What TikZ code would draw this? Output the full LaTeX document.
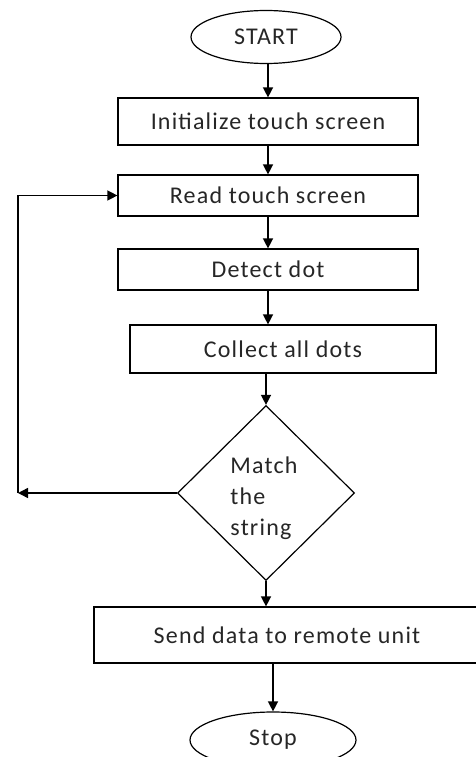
\documentclass[tikz,border=0pt]{standalone}
\usepackage{fontspec}
\setmainfont[LetterSpace=5]{Carlito}
\usetikzlibrary{shapes.geometric,arrows.meta}

\tikzset{
  box/.style={draw, rectangle, line width=1.2pt, inner sep=0pt},
  term/.style={draw, ellipse, line width=1.2pt, inner sep=0pt},
  decide/.style={draw, diamond, line width=1.2pt, inner sep=0pt, align=left},
  flow/.style={line width=1.4pt, -{Triangle[width=10pt,length=10pt]}}
}

\begin{document}
\begin{tikzpicture}[x=1pt, y=-1pt, font=\fontsize{24}{31}\selectfont, text=black!85]

\useasboundingbox (0,0) rectangle (476,757);
\clip (0,0) rectangle (476,757);

% Terminals
\node[term, minimum width=150pt, minimum height=53pt] (start) at (266,37) {START};
\node[term, minimum width=166pt, minimum height=56pt] (stop) at (273,740) {Stop};

% Process boxes
\node[box, minimum width=300pt, minimum height=47pt] (init) at (268,121.5) {Initialize touch screen};
\node[box, minimum width=300pt, minimum height=41pt] (read) at (268,195.5) {Read touch screen};
\node[box, minimum width=300pt, minimum height=41pt] (detect) at (268,269.5) {Detect dot};
\node[box, minimum width=306pt, minimum height=48pt] (collect) at (283,349) {Collect all dots};
\node[box, minimum width=386pt, minimum height=56pt] (send) at (287,635) {Send data to remote unit};

% Decision
\node[decide, minimum width=177pt, minimum height=175pt] (match) at (266,493) {};
\node[align=left] (matchtxt) at (264,498) {Match\\the\\string};

% Loop corners
\coordinate (loopbot) at (18,493);
\coordinate (looptop) at (18,195.5);

% Main flow
\draw[flow] (start.south -| init.north) -- (init.north);
\draw[flow] (init.south) -- (read.north);
\draw[flow] (read.south) -- (read.south |- detect.north);
\draw[flow] (detect.south) -- (detect.south |- collect.north);
\draw[flow] (match.north |- collect.south) -- (match.north);
\draw[flow] (match.south) -- (match.south |- send.north);
\draw[flow] (send.south -| stop.north) -- (stop.north);

% Return loop
\draw[flow] (match.west) -- (loopbot);
\draw[flow] (loopbot) -- (looptop) -- (read.west);

\end{tikzpicture}
\end{document}
